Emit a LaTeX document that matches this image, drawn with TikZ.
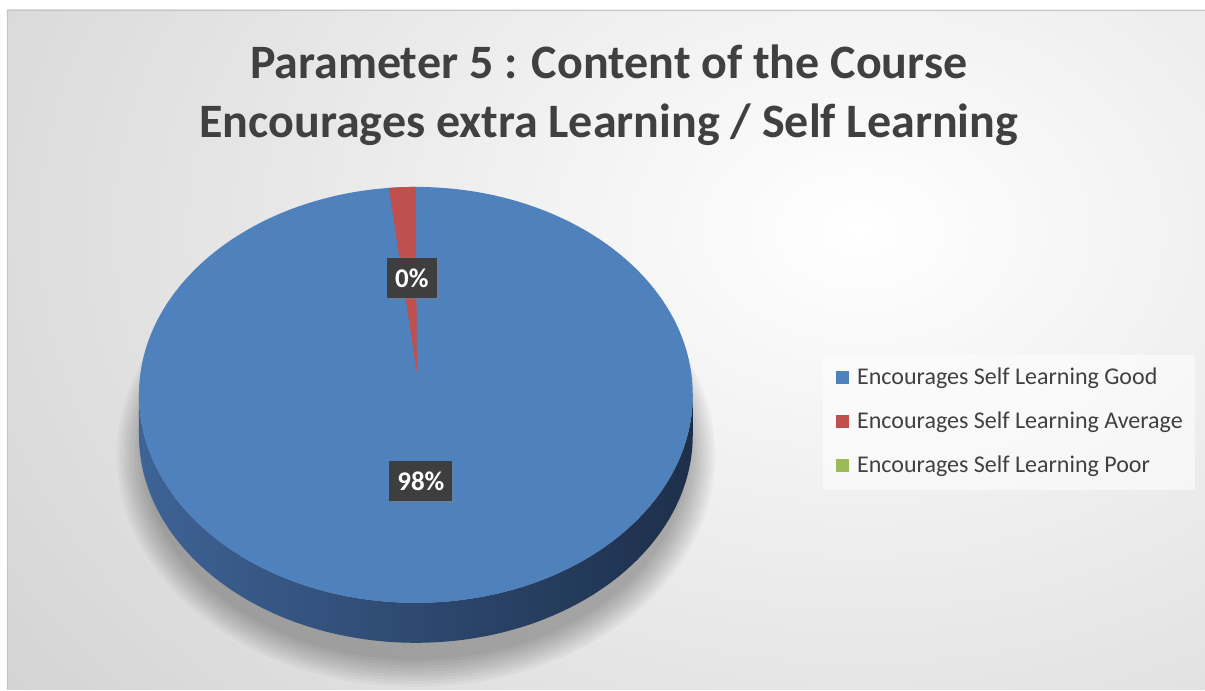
\documentclass[tikz,border=0pt]{standalone}
\usepackage{fontspec}
\setmainfont{Carlito}
\usetikzlibrary{positioning,shadows}
\definecolor{goodblue}{RGB}{79,129,189}
\definecolor{avgred}{RGB}{192,80,77}
\definecolor{poorgreen}{RGB}{155,187,89}
\definecolor{sidelight}{RGB}{62,99,150}
\definecolor{sidedark}{RGB}{29,47,74}
\definecolor{titlegray}{RGB}{64,64,64}
\definecolor{labelgray}{RGB}{62,62,62}
\definecolor{chartgray}{RGB}{196,196,196}

\begin{document}
\begin{tikzpicture}[x=1pt, y=-1pt,
    pctlabel/.style={fill=labelgray, text=white, font=\fontsize{27}{30}\selectfont\bfseries,
      minimum height=40pt, inner xsep=8pt,
      drop shadow={opacity=0.35, shadow xshift=2pt, shadow yshift=-2pt}},
    legendkey/.style={minimum size=13pt, inner sep=0pt},
    legendtext/.style={right=8pt of #1, font=\fontsize{24}{28}\selectfont, text=titlegray, inner sep=0pt}]

  % page and chart area
  \fill[white] (0,0) rectangle (1205,690);
  \begin{scope}
    \clip (7,10) rectangle (1205,690);
    \shade[inner color=white, outer color=chartgray] (860,230) ellipse [x radius=1450, y radius=1050];
  \end{scope}
  \draw[gray!45, line width=0.8pt] (1205,10) -- (7,10) -- (7,690);

  % soft shadow below the pie
  \foreach \s in {0,...,9}
    \fill[black, opacity=0.03] (416,455) ellipse [x radius=272+3*\s, y radius=205+3*\s];

  % side and top of the pie
  \shade[left color=sidelight, middle color=sidedark!95!sidelight, right color=sidedark]
    (693,395) arc[start angle=0, end angle=180, x radius=277, y radius=208]
    -- ++(0,40) arc[start angle=180, end angle=0, x radius=277, y radius=208] -- cycle;
  \fill[goodblue] (416,395) ellipse [x radius=277, y radius=208];
  \fill[avgred] (417,373) -- (416,187) arc[start angle=270, end angle=264.4, x radius=277, y radius=208] -- cycle;

  \node[pctlabel] (avglabel) at (412,278) {0\%};
  \node[pctlabel] (goodlabel) at (421,481) {98\%};

  \node[font=\fontsize{48}{59}\selectfont\bfseries, text=titlegray, align=center, inner sep=0pt]
    (title) at (609,95) {Parameter 5 : Content of the Course\\Encourages extra Learning / Self Learning};

  % legend
  \fill[white, opacity=0.55] (823,355) rectangle (1195,490);
  \node[legendkey, fill=goodblue] (keygood) at (842.5,378) {};
  \node[legendkey, fill=avgred] (keyavg) at (842.5,422) {};
  \node[legendkey, fill=poorgreen] (keypoor) at (842.5,466) {};
  \node[legendtext=keygood] (txtgood) {Encourages Self Learning Good};
  \node[legendtext=keyavg] (txtavg) {Encourages Self Learning Average};
  \node[legendtext=keypoor] (txtpoor) {Encourages Self Learning Poor};
\end{tikzpicture}
\end{document}
